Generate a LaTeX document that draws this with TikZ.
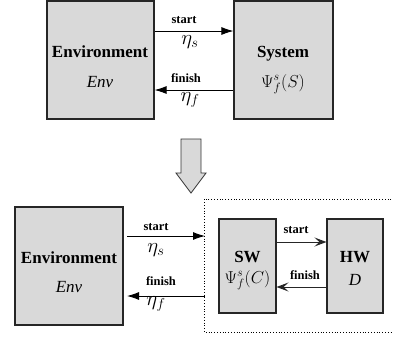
\documentclass[tikz,border=0pt]{standalone}
\usepackage{fontspec}
\setmainfont{Liberation Serif}
\usetikzlibrary{arrows.meta}
\definecolor{boxgray}{RGB}{217,217,217}
\tikzset{
  box/.style={draw=black!85, line width=1.1pt, fill=boxgray, inner sep=0pt},
  big/.style={font=\fontsize{17}{20}\selectfont, inner sep=0pt, anchor=base},
  mathtxt/.style={font=\fontsize{18.5}{20}\selectfont, inner sep=0pt, anchor=base},
  lab/.style={font=\fontsize{12.5}{14}\selectfont\bfseries, inner sep=0pt, anchor=base},
  eta/.style={font=\fontsize{20}{22}\selectfont, inner sep=0pt},
  outarrow/.style={line width=0.9pt, -{Latex[length=12pt,width=8pt]}},
  inarrow/.style={line width=0.9pt, draw=black!85, -{Stealth[length=12pt,width=9pt,inset=5pt]}},
}
\begin{document}
\begin{tikzpicture}[x=1pt,y=-1pt]
\useasboundingbox (0,0) rectangle (393,338);
% top
\node[box, minimum width=107pt, minimum height=118pt] (env1) at (100.5,60) {};
\node[box, minimum width=99pt, minimum height=118pt] (sys1) at (283.5,60) {};
\node[big, font=\fontsize{17}{20}\selectfont\bfseries] (t1) at (100,57) {Environment};
\node[big, font=\fontsize{17}{20}\selectfont\itshape] (t2) at (100,87) {Env};
\node[big, font=\fontsize{17}{20}\selectfont\bfseries] (t3) at (283,57) {System};
\node[mathtxt] (t4) at (283,87) {$\Psi^{s}_{f}(S)$};
\coordinate (a1) at (0,31);
\coordinate (a2) at (0,90);
\draw[outarrow] (env1.east |- a1) -- (sys1.west |- a1);
\draw[outarrow] (sys1.west |- a2) -- (env1.east |- a2);
\node[lab] (l1) at (184,23) {start};
\node[eta] (e1) at (190,42) {$\eta_{s}$};
\node[lab] (l2) at (186,82) {finish};
\node[eta] (e2) at (190,100) {$\eta_{f}$};
% block arrow
\draw[line width=0.8pt, draw=black!80, fill=boxgray]
  (181,139) -- (201,139) -- (201,173) -- (206,173) -- (191,193) -- (176,173) -- (181,173) -- cycle;
% bottom
\draw[dotted, line width=0.8pt] (394,199) -- (204,199) -- (204,332) -- (394,332);
\node[box, minimum width=108pt, minimum height=118pt] (env2) at (69,266) {};
\node[box, minimum width=57pt, minimum height=94pt] (sw) at (247.5,266) {};
\node[box, minimum width=56pt, minimum height=94pt] (hw) at (355,266) {};
\node[big, font=\fontsize{17}{20}\selectfont\bfseries] (t5) at (69,263) {Environment};
\node[big, font=\fontsize{17}{20}\selectfont\itshape] (t6) at (69,292) {Env};
\node[big, font=\fontsize{17}{20}\selectfont\bfseries] (t7) at (247.5,262) {SW};
\node[mathtxt] (t8) at (247.5,283) {$\Psi^{s}_{f}(C)$};
\node[big, font=\fontsize{17}{20}\selectfont\bfseries] (t9) at (355,262) {HW};
\node[big, font=\fontsize{17}{20}\selectfont\itshape] (t10) at (355,285) {D};
\coordinate (b1s) at (127,236);
\coordinate (b1e) at (205,236);
\coordinate (b2s) at (205,296);
\coordinate (b2e) at (127,296);
\draw[outarrow] (b1s) -- (b1e);
\draw[outarrow] (b2s) -- (b2e);
\node[lab] (l3) at (156,230) {start};
\node[eta] (e3) at (156,250) {$\eta_{s}$};
\node[lab] (l4) at (161,285) {finish};
\node[eta] (e4) at (156,304) {$\eta_{f}$};
\coordinate (c1) at (0,242);
\coordinate (c2) at (0,287);
\draw[inarrow] (sw.east |- c1) -- (hw.west |- c1);
\draw[inarrow] (hw.west |- c2) -- (sw.east |- c2);
\node[lab] (l5) at (296,233) {start};
\node[lab] (l6) at (305,279) {finish};
\end{tikzpicture}
\end{document}
